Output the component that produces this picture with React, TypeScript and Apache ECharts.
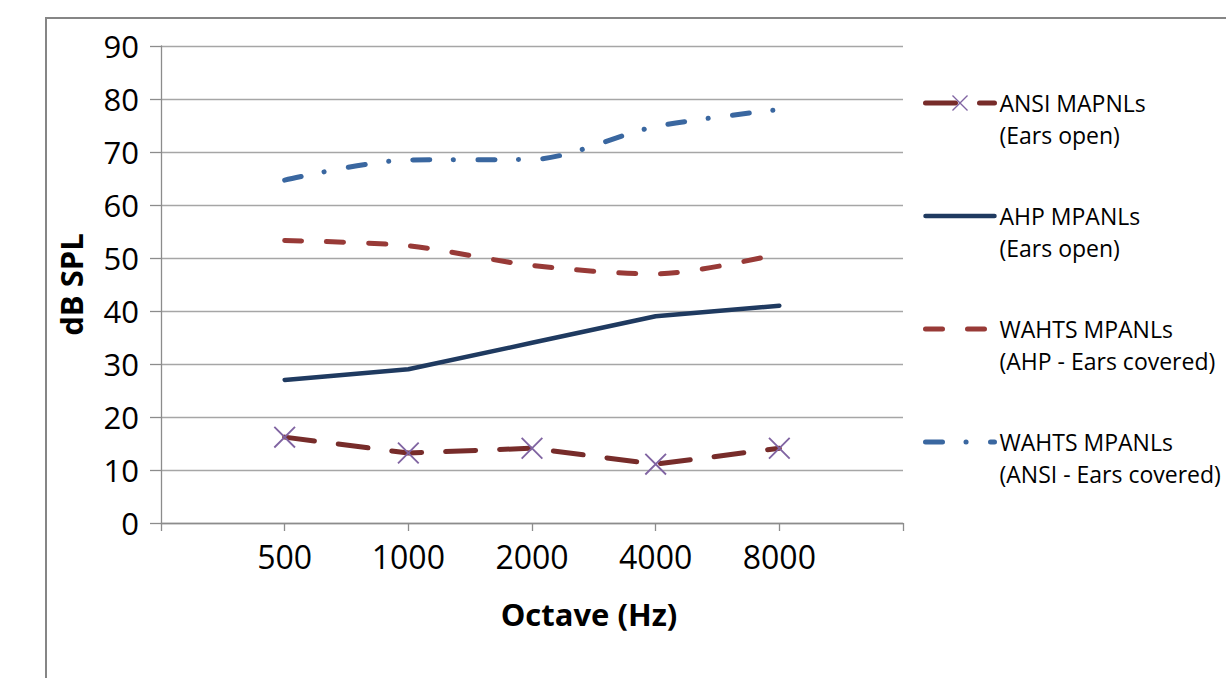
import React, { useEffect, useRef } from "react";
import * as echarts from "echarts";

const categories = ["", "500", "1000", "2000", "4000", "8000", ""];
const ansiMapnl = [16.2, 13.2, 14.1, 11.1, 14.1];
const ahpMpanl = [27, 29, 34, 39, 41];
const wahtsAhp = [53.3, 52.3, 48.6, 47, 50.8];
const wahtsAnsi = [64.7, 68.5, 68.6, 74.8, 78];
const seriesNames = [
  "ANSI MAPNLs\n(Ears open)",
  "AHP MPANLs\n(Ears open)",
  "WAHTS MPANLs\n(AHP - Ears covered)",
  "WAHTS MPANLs\n(ANSI - Ears covered)",
];

const pad = (v: number[]) => [null, ...v, null];
const FONT = "'Open Sans', 'Noto Sans', sans-serif";
const XSYM = "path://M0,1.2L1.2,0L20,18.8L18.8,20Z M18.8,0L20,1.2L1.2,20L0,18.8Z";

export default function App() {
  const ref = useRef<HTMLDivElement>(null);
  useEffect(() => {
    if (!ref.current) return;
    const chart = echarts.init(ref.current, null, { renderer: "svg" });
    chart.setOption({
      animation: false,
      backgroundColor: "#fff",
      textStyle: { fontFamily: FONT },
      graphic: [
        {
          type: "rect",
          shape: { x: 46, y: 18, width: 1300, height: 800 },
          style: { fill: "none", stroke: "#868686", lineWidth: 2 },
          silent: true,
        },
      ],
      grid: { left: 161, right: 323, top: 46, bottom: 155 },
      legend: {
        orient: "vertical",
        left: 923,
        top: 55,
        padding: 0,
        itemGap: 17,
        itemWidth: 69,
        itemHeight: 20,
        formatter: (name: string) => " \n" + name,
        lineStyle: { width: "inherit", type: "inherit", cap: "inherit" },
        textStyle: {
          fontFamily: FONT,
          fontSize: 23,
          color: "#000",
          lineHeight: 32,
        },
        data: [
          { name: seriesNames[0] },
          { name: seriesNames[1], itemStyle: { opacity: 0 } },
          { name: seriesNames[2], itemStyle: { opacity: 0 } },
          { name: seriesNames[3], itemStyle: { opacity: 0 } },
        ],
      },
      xAxis: {
        type: "category",
        data: categories,
        boundaryGap: false,
        axisLine: { lineStyle: { color: "#8c8c8c", width: 1.3 } },
        axisTick: { show: true, length: 8, lineStyle: { color: "#8c8c8c", width: 1.3 } },
        axisLabel: { fontSize: 32, color: "#000", margin: 17, fontFamily: FONT },
        name: "Octave (Hz)",
        nameLocation: "middle",
        nameGap: 75,
        nameTextStyle: {
          fontSize: 31,
          fontWeight: "bold",
          color: "#000",
          fontFamily: FONT,
          padding: [0, 0, 0, 114],
        },
      },
      yAxis: {
        type: "value",
        min: 0,
        max: 90,
        interval: 10,
        axisLine: { show: true, lineStyle: { color: "#8c8c8c", width: 1.3 } },
        axisTick: { show: true, length: 11, lineStyle: { color: "#8c8c8c", width: 1.3 } },
        splitLine: { lineStyle: { color: "#a6a6a6", width: 1.3 } },
        axisLabel: { fontSize: 31, color: "#000", margin: 22, fontFamily: FONT },
        name: "dB SPL",
        nameLocation: "middle",
        nameGap: 75,
        nameTextStyle: { fontSize: 31, fontWeight: "bold", color: "#000", fontFamily: FONT },
      },
      series: [
        {
          name: seriesNames[0],
          type: "line",
          data: pad(ansiMapnl),
          symbol: XSYM,
          symbolSize: 22,
          showSymbol: true,
          itemStyle: { color: "#8064A2" },
          lineStyle: { color: "#772C2A", width: 5, type: [30, 24], cap: "round" },
          z: 5,
        },
        {
          name: seriesNames[1],
          type: "line",
          data: pad(ahpMpanl),
          symbol: "none",
          itemStyle: { color: "#1F3A60" },
          lineStyle: { color: "#1F3A60", width: 4.5, cap: "round" },
        },
        {
          name: seriesNames[2],
          type: "line",
          data: pad(wahtsAhp),
          symbol: "none",
          smooth: 0.3,
          itemStyle: { color: "#983A37" },
          lineStyle: { color: "#983A37", width: 5, type: [17, 25], cap: "round" },
        },
        {
          name: seriesNames[3],
          type: "line",
          data: pad(wahtsAnsi),
          symbol: "none",
          smooth: 0.3,
          itemStyle: { color: "#3A67A0" },
          lineStyle: { color: "#3A67A0", width: 5, type: [17, 23.5, 0.1, 24.4], cap: "round" },
        },
      ],
    });
    return () => chart.dispose();
  }, []);
  return (
    <div
      ref={ref}
      style={{ position: "fixed", left: 0, top: 0, width: 1226, height: 678 }}
    />
  );
}
